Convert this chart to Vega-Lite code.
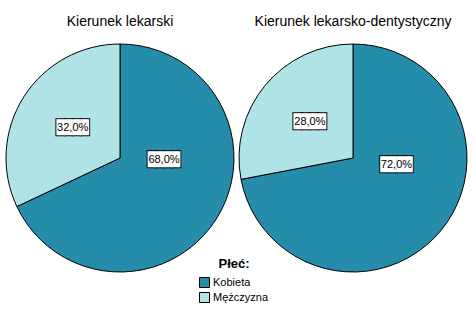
{
  "$schema": "https://vega.github.io/schema/vega-lite/v6.json",
  "data": {"values": [
    {"kierunek": "Kierunek lekarski", "plec": "Kobieta", "procent": 68, "etykieta": "68,0%"},
    {"kierunek": "Kierunek lekarski", "plec": "Mężczyzna", "procent": 32, "etykieta": "32,0%"},
    {"kierunek": "Kierunek lekarsko-dentystyczny", "plec": "Kobieta", "procent": 72, "etykieta": "72,0%"},
    {"kierunek": "Kierunek lekarsko-dentystyczny", "plec": "Mężczyzna", "procent": 28, "etykieta": "28,0%"}
  ]},
  "padding": {"left": 4, "top": 15, "right": 0, "bottom": 0},
  "spacing": 1,
  "facet": {"column": {"field": "kierunek", "type": "nominal", "title": null,
    "header": {"labelFontSize": 14, "labelFont": "Liberation Sans", "labelColor": "#000", "labelPadding": 6, "labelBaseline": "middle"}}},
  "spec": {
    "width": 228, "height": 228,
    "encoding": {
      "theta": {"field": "procent", "type": "quantitative", "stack": true},
      "order": {"field": "plec", "sort": "ascending"}
    },
    "layer": [
      {"mark": {"type": "arc", "stroke": "#000", "strokeWidth": 1},
       "encoding": {"color": {"field": "plec", "type": "nominal",
         "scale": {"domain": ["Kobieta", "Mężczyzna"], "range": ["#258ca9", "#b0e3e6"]},
         "legend": {"title": "Płeć:", "orient": "none", "legendX": 193, "legendY": 214,
           "titleFont": "Liberation Sans", "titleFontSize": 13, "titleFontWeight": "bold", "titleColor": "#000",
           "titleAnchor": "middle", "titlePadding": 6,
           "labelFont": "Liberation Sans", "labelFontSize": 11, "labelColor": "#000",
           "symbolType": "square", "symbolSize": 100, "symbolStrokeColor": "#000", "symbolStrokeWidth": 1, "symbolOpacity": 1,
           "labelOffset": 3, "rowPadding": 0}}}},
      {"mark": {"type": "text", "radius": 44, "thetaOffset": -0.53, "font": "DejaVu Sans Mono", "fontSize": 13.5, "fill": "#fff", "stroke": "#000", "strokeWidth": 2, "baseline": "middle", "align": "center"},
       "encoding": {"text": {"condition": {"test": "datum.plec == 'Kobieta'", "value": "████"}, "value": ""}}},
      {"mark": {"type": "text", "radius": 44, "thetaOffset": -0.53, "font": "DejaVu Sans Mono", "fontSize": 13.5, "fill": "#fff", "baseline": "middle", "align": "center"},
       "encoding": {"text": {"condition": {"test": "datum.plec == 'Kobieta'", "value": "████"}, "value": ""}}},
      {"mark": {"type": "text", "radius": 44, "thetaOffset": -0.53, "font": "Liberation Sans", "fontSize": 11, "fill": "#000", "baseline": "middle", "align": "center"},
       "encoding": {"text": {"condition": {"test": "datum.plec == 'Kobieta'", "field": "etykieta"}, "value": ""}}},
      {"mark": {"type": "text", "radius": 56, "font": "DejaVu Sans Mono", "fontSize": 13.5, "fill": "#fff", "stroke": "#000", "strokeWidth": 2, "baseline": "middle", "align": "center"},
       "encoding": {"text": {"condition": {"test": "datum.plec == 'Mężczyzna'", "value": "████"}, "value": ""}}},
      {"mark": {"type": "text", "radius": 56, "font": "DejaVu Sans Mono", "fontSize": 13.5, "fill": "#fff", "baseline": "middle", "align": "center"},
       "encoding": {"text": {"condition": {"test": "datum.plec == 'Mężczyzna'", "value": "████"}, "value": ""}}},
      {"mark": {"type": "text", "radius": 56, "font": "Liberation Sans", "fontSize": 11, "fill": "#000", "baseline": "middle", "align": "center"},
       "encoding": {"text": {"condition": {"test": "datum.plec == 'Mężczyzna'", "field": "etykieta"}, "value": ""}}}
    ]
  },
  "config": {"view": {"stroke": null}, "background": "#ffffff"}
}
